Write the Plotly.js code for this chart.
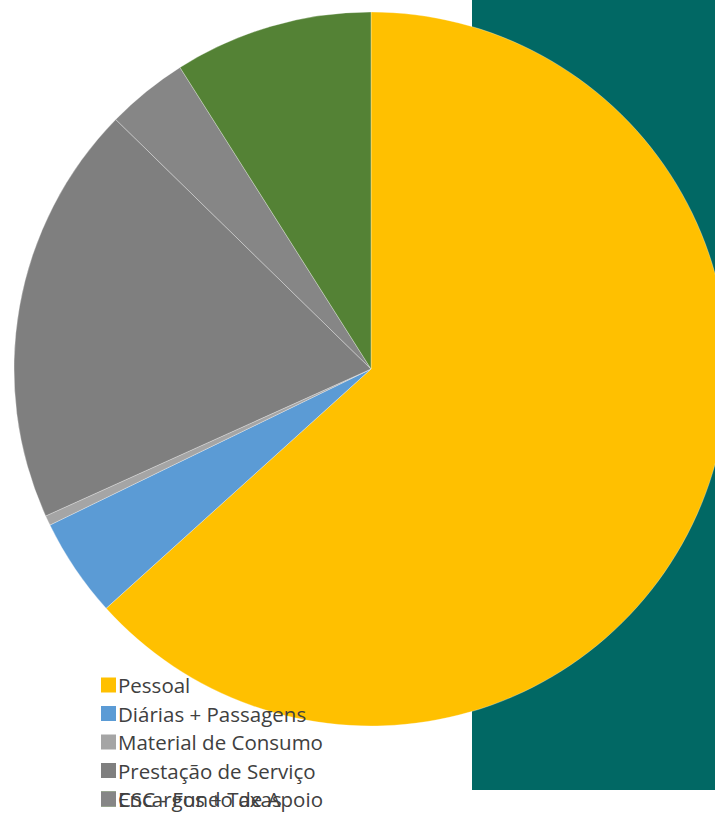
<!DOCTYPE html>
<html>
<head>
<meta charset="utf-8">
<script src="https://cdn.plot.ly/plotly-3.0.1.min.js"></script>
<style>
html,body{margin:0;padding:0;overflow:hidden;background:#fff;width:715px;height:814px;}
#chart{width:742px;height:814px;}
</style>
</head>
<body>
<div id="chart"></div>
<script>
// Data
var categories = ["Pessoal", "Diárias + Passagens", "Material de Consumo", "Prestação de Serviço", "Encargos + Taxas", "CSC - Fundo de Apoio"];
var values = [63.4, 4.5, 0.45, 19.1, 3.7, 9.0];
var colors = ["#FFC000", "#5B9BD5", "#A5A5A5", "#7F7F7F", "#868686", "#548235"];

// Layout geometry (pixels)
var W = 742, H = 814;
var ml = 14, mt = 12, side = 714;
function px2x(px){ return (px - ml) / side; }
function py2y(py){ return (mt + side - py) / side; }

var shapes = [{
  type: "rect", xref: "paper", yref: "paper", layer: "below",
  x0: px2x(472), x1: px2x(W), y0: py2y(790), y1: py2y(0),
  fillcolor: "#016864", line: {width: 0}
}];
var annotations = [];
var rowY0 = 685, rowStep = 28.5;
var n = categories.length;
// draw later entries first so earlier ones sit on top where rows overlap
for (var i = n - 1; i >= 0; i--) {
  var row = Math.min(i, 4);
  var cy = rowY0 + row * rowStep;
  shapes.push({
    type: "rect", xref: "paper", yref: "paper", layer: "above",
    x0: px2x(101), x1: px2x(116), y0: py2y(cy + 7.5), y1: py2y(cy - 7.5),
    fillcolor: colors[i], line: {width: 0}
  });
  annotations.push({
    xref: "paper", yref: "paper", x: px2x(117), y: py2y(cy),
    xanchor: "left", yanchor: "middle", showarrow: false,
    text: categories[i], borderpad: 0,
    font: {family: "Open Sans, sans-serif", size: 20.5, color: "#404040"}
  });
}

var trace = {
  type: "pie",
  labels: categories,
  values: values,
  sort: false,
  direction: "clockwise",
  rotation: 0,
  textinfo: "none",
  hoverinfo: "label+percent",
  marker: {colors: colors, line: {color: "rgba(255,255,255,0.3)", width: 1}},
  domain: {x: [0, 1], y: [0, 1]},
  showlegend: false
};

var layout = {
  width: W, height: H,
  margin: {l: ml, r: W - ml - side, t: mt, b: H - mt - side, pad: 0},
  paper_bgcolor: "#ffffff",
  showlegend: false,
  shapes: shapes,
  annotations: annotations
};

Plotly.newPlot("chart", [trace], layout, {displayModeBar: false, staticPlot: true});
</script>
</body>
</html>
